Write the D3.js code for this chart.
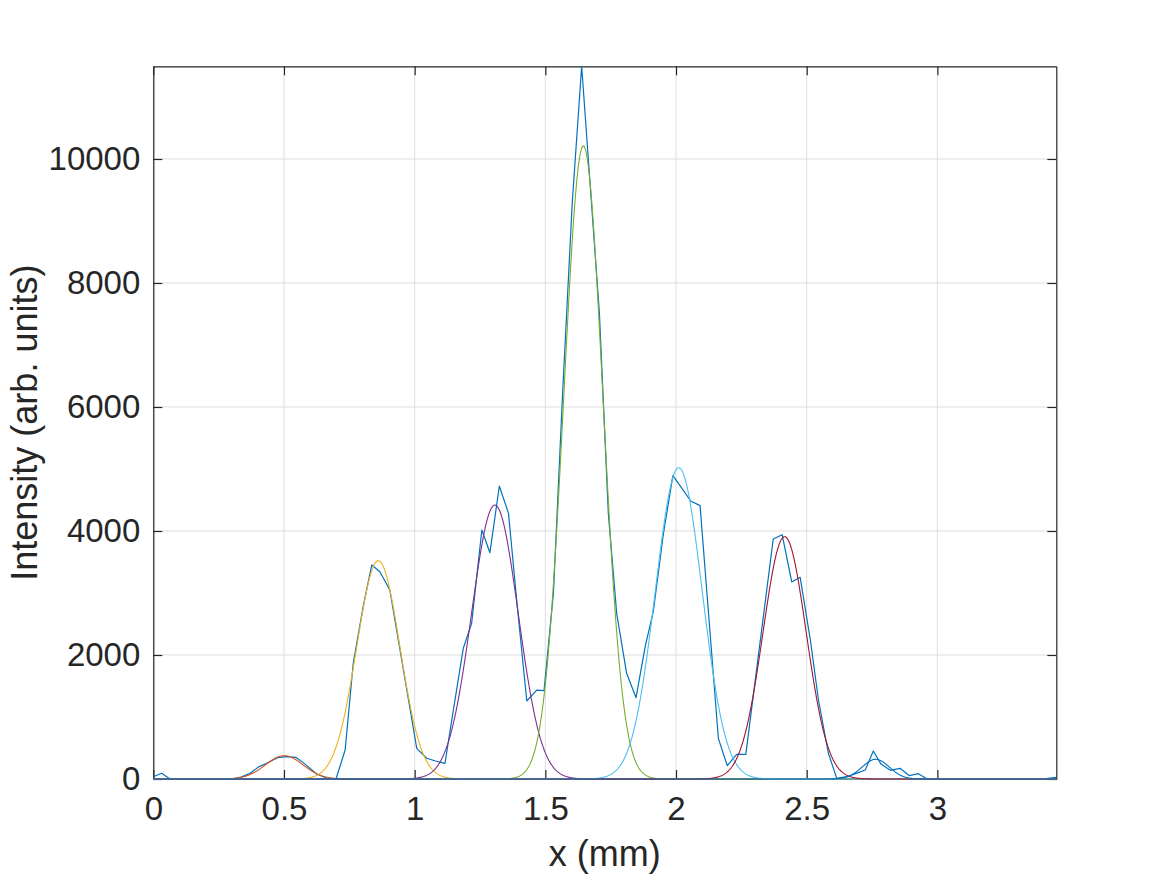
<!DOCTYPE html>
<html>
<head>
<meta charset="utf-8">
<script src="https://cdn.jsdelivr.net/npm/d3@7"></script>
<style>
	body { margin: 0; background: #fff; }
	svg text { font-family: "Liberation Sans", Arial, Helvetica, sans-serif; fill: #262626; }
</style>
</head>
<body>
<div id="main"></div>
<script>
// Medidas de la figura y del area de dibujo
var totalWidth = 1167;
var totalHeight = 875;
var plotLeft = 153.3;
var plotRight = 1056.3;
var plotTop = 66.3;
var plotBottom = 779;

// Limites y marcas de los ejes
var xLimits = [0, 3.455];
var yLimits = [0, 11495];
var xTicks = [0, 0.5, 1, 1.5, 2, 2.5, 3];
var yTicks = [0, 2000, 4000, 6000, 8000, 10000];

// Perfil medido (x en mm, intensidad)
var posicionX = [0.000, 0.032, 0.064, 0.100, 0.150, 0.200, 0.250, 0.300, 0.336, 0.370, 0.405, 0.440,
	0.475, 0.510, 0.545, 0.575, 0.625, 0.664, 0.699, 0.734, 0.765, 0.804, 0.836, 0.867,
	0.905, 0.940, 0.975, 1.008, 1.046, 1.080, 1.116, 1.142, 1.186, 1.218, 1.257, 1.288,
	1.324, 1.359, 1.393, 1.429, 1.467, 1.495, 1.531, 1.567, 1.603, 1.639, 1.673, 1.707,
	1.741, 1.773, 1.811, 1.847, 1.882, 1.913, 1.952, 1.988, 2.022, 2.056, 2.092, 2.127,
	2.162, 2.196, 2.232, 2.267, 2.300, 2.336, 2.372, 2.406, 2.443, 2.475, 2.514, 2.545,
	2.583, 2.615, 2.653, 2.690, 2.724, 2.755, 2.784, 2.820, 2.857, 2.892, 2.927, 2.959,
	3.000, 3.100, 3.200, 3.300, 3.400, 3.455];
var intensidad = [37, 92, 0, 0, 0, 0, 0, 0, 30, 92, 200, 265,
	345, 362, 350, 260, 80, 11, 0, 468, 1866, 2806, 3452, 3344,
	3048, 2180, 1313, 495, 334, 290, 253, 952, 2108, 2511, 4016, 3650,
	4726, 4285, 2770, 1258, 1435, 1424, 3000, 6300, 9300, 11495, 9500, 7500,
	4285, 2672, 1705, 1311, 2134, 2698, 3963, 4892, 4690, 4484, 4409, 2532,
	656, 215, 398, 398, 1489, 2680, 3871, 3940, 3177, 3253, 2242, 1274,
	414, 11, 37, 90, 145, 452, 240, 140, 172, 55, 86, 5,
	0, 0, 0, 0, 0, 27];

// Parametros de los ajustes gaussianos
var ajusteAmplitud = [376, 3521, 4419, 10210, 5021, 3908, 318];
var ajusteCentro = [0.501, 0.861, 1.307, 1.6454, 2.0105, 2.4155, 2.764];
var ajusteSigma = [0.072, 0.0825, 0.089, 0.0746, 0.0893, 0.0825, 0.052];
var ajusteColor = ["#D95319", "#EDB120", "#7E2F8E", "#77AC30", "#4DBEEE", "#A2142F", "#0072BD"];


/**
* @method :: dibujarGrafica
* @description :: Dibuja el perfil medido con sus ajustes
**/
function dibujarGrafica() {
	var svg = d3.select("#main").append("svg")
		.attr("width", totalWidth)
		.attr("height", totalHeight)
		.attr("style", "background-color: #fff;");

	var x = d3.scaleLinear().domain(xLimits).range([plotLeft, plotRight]);
	var y = d3.scaleLinear().domain(yLimits).range([plotBottom, plotTop]);

	// Rejilla
	svg.append("g").selectAll("line.vgrid").data(xTicks).enter().append("line")
		.attr("x1", function(d) { return x(d); })
		.attr("x2", function(d) { return x(d); })
		.attr("y1", plotTop)
		.attr("y2", plotBottom)
		.attr("stroke", "#dedede")
		.attr("stroke-width", 1);
	svg.append("g").selectAll("line.hgrid").data(yTicks).enter().append("line")
		.attr("x1", plotLeft)
		.attr("x2", plotRight)
		.attr("y1", function(d) { return y(d); })
		.attr("y2", function(d) { return y(d); })
		.attr("stroke", "#dedede")
		.attr("stroke-width", 1);

	dibujarEjes(svg, x, y);

	svg.append("defs").append("clipPath").attr("id", "recorte")
		.append("rect")
		.attr("x", plotLeft)
		.attr("y", plotTop - 1)
		.attr("width", plotRight - plotLeft)
		.attr("height", plotBottom - plotTop + 2);

	var zona = svg.append("g").attr("clip-path", "url(#recorte)");

	// Datos medidos
	var linea = d3.line()
		.x(function(d) { return x(d[0]); })
		.y(function(d) { return y(d[1]); });
	var puntos = posicionX.map(function(v, i) { return [v, intensidad[i]]; });
	zona.append("path")
		.attr("d", linea(puntos))
		.attr("fill", "none")
		.attr("stroke", "#0072BD")
		.attr("stroke-width", 1.2)
		.attr("stroke-linejoin", "round");

	// Curvas de ajuste
	var malla = d3.range(xLimits[0], xLimits[1] + 0.001, 0.002);
	ajusteAmplitud.forEach(function(a, k) {
		var curva = malla.map(function(v) {
			var z = (v - ajusteCentro[k]) / ajusteSigma[k];
			return [v, a * Math.exp(-0.5 * z * z)];
		});
		zona.append("path")
			.attr("d", linea(curva))
			.attr("fill", "none")
			.attr("stroke", ajusteColor[k])
			.attr("stroke-width", 1.1);
	});

	// Titulos de los ejes
	svg.append("text")
		.attr("x", (plotLeft + plotRight) / 2)
		.attr("y", 866)
		.attr("text-anchor", "middle")
		.attr("font-size", 36)
		.text("x (mm)");
	svg.append("text")
		.attr("transform", "translate(36.5," + ((plotTop + plotBottom) / 2) + ") rotate(-90)")
		.attr("text-anchor", "middle")
		.attr("font-size", 36)
		.text("Intensity (arb. units)");
}

/**
* @method :: dibujarEjes
* @description :: Caja de los ejes con marcas hacia dentro en los cuatro lados
**/
function dibujarEjes(svg, x, y) {
	var formato = function(d) { return String(d); };
	var ejes = [
		{ eje: d3.axisBottom(x).tickValues(xTicks).tickFormat(formato), t: "translate(0," + plotBottom + ")", pad: 18 },
		{ eje: d3.axisTop(x).tickValues(xTicks).tickFormat(""), t: "translate(0," + plotTop + ")", pad: 0 },
		{ eje: d3.axisLeft(y).tickValues(yTicks).tickFormat(formato), t: "translate(" + plotLeft + ",0)", pad: 13 },
		{ eje: d3.axisRight(y).tickValues(yTicks).tickFormat(""), t: "translate(" + plotRight + ",0)", pad: 0 }
	];
	ejes.forEach(function(e) {
		var g = svg.append("g")
			.attr("transform", e.t)
			.call(e.eje.tickSizeInner(-9).tickSizeOuter(0).tickPadding(e.pad));
		g.select(".domain").attr("stroke", "#262626").attr("stroke-width", 1.2);
		g.selectAll(".tick line").attr("stroke", "#262626").attr("stroke-width", 1.2);
		g.selectAll(".tick text")
			.attr("font-size", 33)
			.attr("font-family", "'Liberation Sans', Arial, sans-serif")
			.attr("fill", "#262626");
	});
}

dibujarGrafica();
</script>
</body>
</html>
